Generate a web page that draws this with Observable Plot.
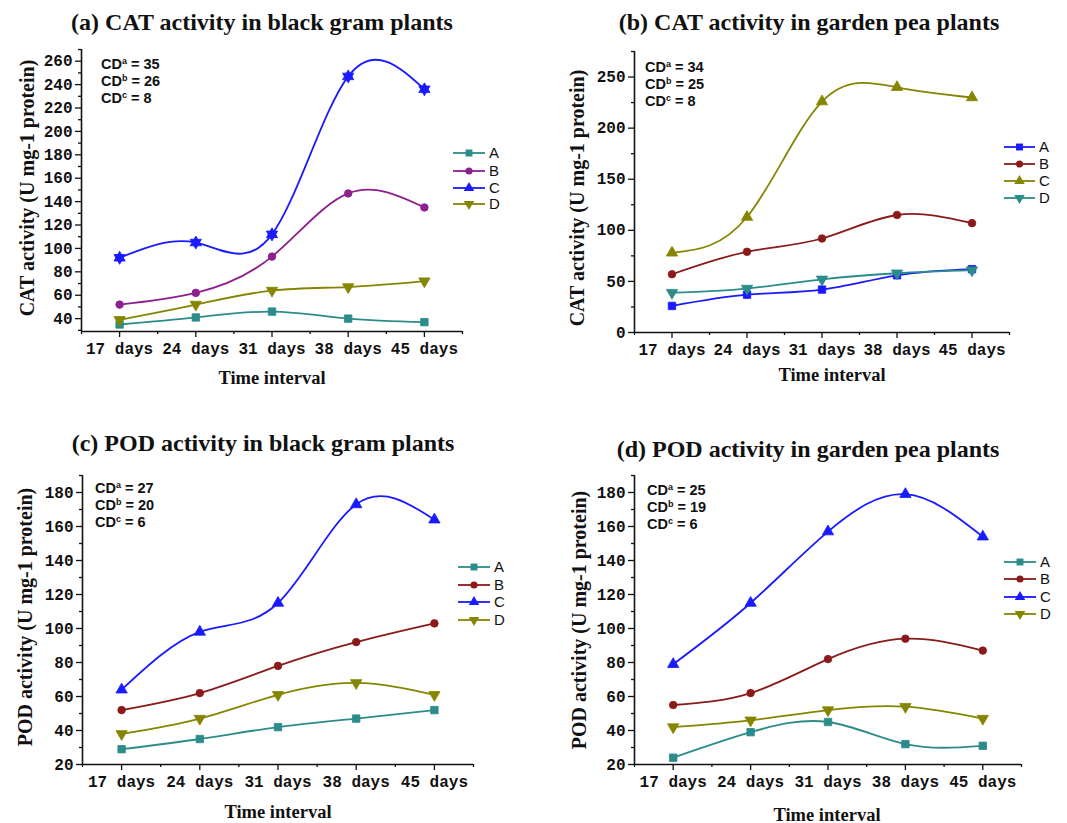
<!DOCTYPE html>
<html><head><meta charset="utf-8">
<script src="https://cdn.jsdelivr.net/npm/d3@7"></script>
<script src="https://cdn.jsdelivr.net/npm/@observablehq/plot@0.6"></script>
<style>
body{margin:0;background:#fff;}
#root{position:relative;width:1067px;height:823px;overflow:hidden;font-family:"Liberation Sans",Arial,sans-serif;}
.panel{position:absolute;}
.panel svg.plot{position:absolute;left:0;top:0;overflow:visible;}
.title{position:absolute;font-family:"Liberation Serif","Times New Roman",serif;font-weight:bold;font-size:24px;white-space:nowrap;transform:translate(-50%,-50%);color:#111;}
.xlab{position:absolute;font-family:"Liberation Serif","Times New Roman",serif;font-weight:bold;font-size:18.5px;white-space:nowrap;transform:translate(-50%,-50%);color:#111;}
.ylab{position:absolute;font-family:"Liberation Serif","Times New Roman",serif;font-weight:bold;font-size:20px;white-space:nowrap;transform:translate(-50%,-50%) rotate(-90deg);color:#111;}
.cd{position:absolute;font-family:"Liberation Sans",Arial,sans-serif;font-weight:bold;font-size:14.5px;line-height:17px;white-space:nowrap;color:#111;}
.cd sup{font-size:9px;vertical-align:5px;line-height:0;}
.legend{position:absolute;left:0;top:0;overflow:visible;}
</style>
</head><body><div id="root"></div>
<script>
// ---- data ----
const days = ["17 days", "24 days", "31 days", "38 days", "45 days"];
const seriesNames = ["A", "B", "C", "D"];

const catBlackA = [35, 41, 46, 40, 37];
const catBlackB = [52, 62, 93, 147, 135];
const catBlackC = [92, 105, 112, 247, 236];
const catBlackD = [39, 52, 64, 67, 72];

const catPeaA = [26, 37, 42, 56, 62];
const catPeaB = [57, 79, 92, 115, 107];
const catPeaC = [78, 113, 226, 240, 230];
const catPeaD = [39, 43, 52, 58, 61];

const podBlackA = [29, 35, 42, 47, 52];
const podBlackB = [52, 62, 78, 92, 103];
const podBlackC = [64, 98, 115, 173, 164];
const podBlackD = [38, 47, 61, 68, 61];

const podPeaA = [24, 39, 45, 32, 31];
const podPeaB = [55, 62, 82, 94, 87];
const podPeaC = [79, 115, 157, 179, 154];
const podPeaD = [42, 46, 52, 54, 47];

const catBlackTicks = [40, 60, 80, 100, 120, 140, 160, 180, 200, 220, 240, 260];
const catPeaTicks = [0, 50, 100, 150, 200, 250];
const podTicks = [20, 40, 60, 80, 100, 120, 140, 160, 180];

const cdCatBlack = [35, 26, 8];
const cdCatPea = [34, 25, 8];
const cdPodBlack = [27, 20, 6];
const cdPodPea = [25, 19, 6];

const titles = ["(a) CAT activity in black gram plants", "(b) CAT activity in garden pea plants",
                "(c) POD activity in black gram plants", "(d) POD activity in garden pea plants"];
const yLabels = ["CAT activity (U mg-1 protein)", "POD activity (U mg-1 protein)"];
const xLabel = "Time interval";

// ---- styles ----
const TEAL = "#2b8c8a", PURPLE = "#8e1f8e", BLUE = "#1a1aff", OLIVE = "#858500", DRED = "#8b1a1a";

const sqrt3 = Math.sqrt(3);
const triDown = {draw(ctx, size){ const y = -Math.sqrt(size / (sqrt3 * 3));
  ctx.moveTo(0, -y * 2); ctx.lineTo(-sqrt3 * y, y); ctx.lineTo(sqrt3 * y, y); ctx.closePath(); }};
const triUp = {draw(ctx, size){ const y = -Math.sqrt(size / (sqrt3 * 3));
  ctx.moveTo(0, y * 2); ctx.lineTo(-sqrt3 * y, -y); ctx.lineTo(sqrt3 * y, -y); ctx.closePath(); }};
const hexagram = {draw(ctx, size){ const y = -Math.sqrt(size / (sqrt3 * 3));
  ctx.moveTo(0, y * 2); ctx.lineTo(-sqrt3 * y, -y); ctx.lineTo(sqrt3 * y, -y); ctx.closePath();
  ctx.moveTo(0, -y * 2); ctx.lineTo(sqrt3 * y, y); ctx.lineTo(-sqrt3 * y, y); ctx.closePath(); }};
const symbols = {A: d3.symbolSquare, B: d3.symbolCircle, C: triUp, D: triDown};
const plotSymbols = {A: "square", B: "circle", C: triUp, D: triDown};

const panels = [
  {left: 0, top: 0, width: 533, height: 410, m: [49, 71, 79, 81],
   vals: [catBlackA, catBlackB, catBlackC, catBlackD], colors: [TEAL, PURPLE, BLUE, OLIVE],
   yTicks: catBlackTicks, yDomain: [29, 270], yStep: 20, cd: cdCatBlack, title: titles[0], ylab: yLabels[0],
   titlePos: [262, 22], xlabPos: [272, 378], ylabPos: [27, 188], cdPos: [101, 56],
   leg: {x1: 453, x2: 485, lx: 489, ys: [153, 171, 188, 204]}, cMarker: hexagram},
  {left: 530, top: 0, width: 537, height: 410, m: [51, 58, 78, 104],
   vals: [catPeaA, catPeaB, catPeaC, catPeaD], colors: [BLUE, DRED, OLIVE, TEAL],
   yTicks: catPeaTicks, yDomain: [0, 275], yStep: 50, cd: cdCatPea, title: titles[1], ylab: yLabels[0],
   titlePos: [279, 22], xlabPos: [302, 375], ylabPos: [47, 198], cdPos: [115, 59],
   leg: {x1: 474, x2: 505, lx: 509, ys: [147, 164, 181, 198]}},
  {left: 0, top: 410, width: 533, height: 413, m: [65, 60, 59, 82],
   vals: [podBlackA, podBlackB, podBlackC, podBlackD], colors: [TEAL, DRED, BLUE, OLIVE],
   yTicks: podTicks, yDomain: [20, 190], yStep: 20, cd: cdPodBlack, title: titles[2], ylab: yLabels[1],
   titlePos: [263, 33], xlabPos: [278, 402], ylabPos: [25, 207], cdPos: [95, 70],
   leg: {x1: 458, x2: 490, lx: 494, ys: [157, 175, 192, 210]}},
  {left: 530, top: 410, width: 537, height: 413, m: [65, 46, 59, 104],
   vals: [podPeaA, podPeaB, podPeaC, podPeaD], colors: [TEAL, DRED, BLUE, OLIVE],
   yTicks: podTicks, yDomain: [20, 190], yStep: 20, cd: cdPodPea, title: titles[3], ylab: yLabels[1],
   titlePos: [278, 39], xlabPos: [297, 405], ylabPos: [49, 210], cdPos: [117, 72],
   leg: {x1: 474, x2: 506, lx: 510, ys: [152, 169, 187, 204]}}
];

const root = document.getElementById("root");
const axisFont = {fontFamily: "'Liberation Mono','Courier New',monospace", fontSize: 16, fontWeight: "bold"};

function addText(div, cls, html, x, y){
  const e = document.createElement("div"); e.className = cls; e.innerHTML = html;
  e.style.left = x + "px"; e.style.top = y + "px"; div.appendChild(e); return e;
}

panels.forEach((p) => {
  const div = document.createElement("div");
  div.className = "panel";
  Object.assign(div.style, {left: p.left + "px", top: p.top + "px", width: p.width + "px", height: p.height + "px"});
  root.appendChild(div);

  const xMajor = days.map((d, i) => i + 1);
  const xMinor = [0.5, ...days.map((d, i) => i + 1.5)];
  const yMinor = [p.yTicks[0] - p.yStep / 2, ...p.yTicks.map(t => t + p.yStep / 2)]
    .filter(t => t >= p.yDomain[0] && t <= p.yDomain[1]);

  const marks = [
    Plot.ruleX([0.5], {stroke: "#111", strokeWidth: 1.6}),
    Plot.ruleY([p.yDomain[0]], {stroke: "#111", strokeWidth: 1.6}),
    Plot.axisY(p.yTicks, {label: null, tickSize: 6, tickPadding: 3, tickFormat: d => String(d), stroke: "#111", strokeWidth: 1.3, fill: "#111", ...axisFont}),
    Plot.axisY(yMinor, {label: null, tickSize: 3, tickFormat: () => "", stroke: "#111", strokeWidth: 1.3}),
    Plot.axisX(xMajor, {label: null, tickSize: 6, tickPadding: 5, tickFormat: d => days[d - 1], stroke: "#111", strokeWidth: 1.3, fill: "#111", ...axisFont}),
    Plot.axisX(xMinor, {label: null, tickSize: 3, tickFormat: () => "", stroke: "#111", strokeWidth: 1.3})
  ];
  seriesNames.forEach((s, k) => {
    const data = p.vals[k].map((v, i) => ({x: i + 1, y: v}));
    const col = p.colors[k];
    marks.push(Plot.line(data, {x: "x", y: "y", stroke: col, strokeWidth: 1.8, curve: "natural"}));
    const sym = (s === "C" && p.cMarker) ? p.cMarker : plotSymbols[s];
    marks.push(Plot.dot(data, {x: "x", y: "y", symbol: sym, fill: col, stroke: col, strokeWidth: 0.8, r: s === "B" ? 3.8 : 4.2}));
  });

  const svg = Plot.plot({
    width: p.width, height: p.height,
    marginTop: p.m[0], marginRight: p.m[1], marginBottom: p.m[2], marginLeft: p.m[3],
    x: {domain: [0.5, days.length + 0.5], axis: null, label: null},
    y: {domain: p.yDomain, axis: null, label: null},
    style: {background: "transparent", overflow: "visible"},
    marks
  });
  svg.classList.add("plot");
  div.appendChild(svg);

  addText(div, "title", p.title, p.titlePos[0], p.titlePos[1]);
  addText(div, "xlab", xLabel, p.xlabPos[0], p.xlabPos[1]);
  addText(div, "ylab", p.ylab, p.ylabPos[0], p.ylabPos[1]);
  const sups = ["a", "b", "c"];
  addText(div, "cd", p.cd.map((v, i) => `CD<sup>${sups[i]}</sup> = ${v}`).join("<br>"), p.cdPos[0], p.cdPos[1]);

  // legend
  const lg = d3.create("svg").attr("class", "legend").attr("width", p.width).attr("height", p.height);
  seriesNames.forEach((s, k) => {
    const y = p.leg.ys[k], col = p.colors[k];
    lg.append("line").attr("x1", p.leg.x1).attr("x2", p.leg.x2).attr("y1", y).attr("y2", y)
      .attr("stroke", col).attr("stroke-width", 1.8);
    lg.append("path").attr("d", d3.symbol(symbols[s], s === "B" ? 40 : 48)())
      .attr("transform", `translate(${(p.leg.x1 + p.leg.x2) / 2},${y})`).attr("fill", col);
    lg.append("text").attr("x", p.leg.lx).attr("y", y).attr("dy", "0.35em")
      .attr("font-family", "'Liberation Sans',Arial,sans-serif").attr("font-size", 15).attr("fill", "#111").text(s);
  });
  div.appendChild(lg.node());
});
</script>
</body></html>
